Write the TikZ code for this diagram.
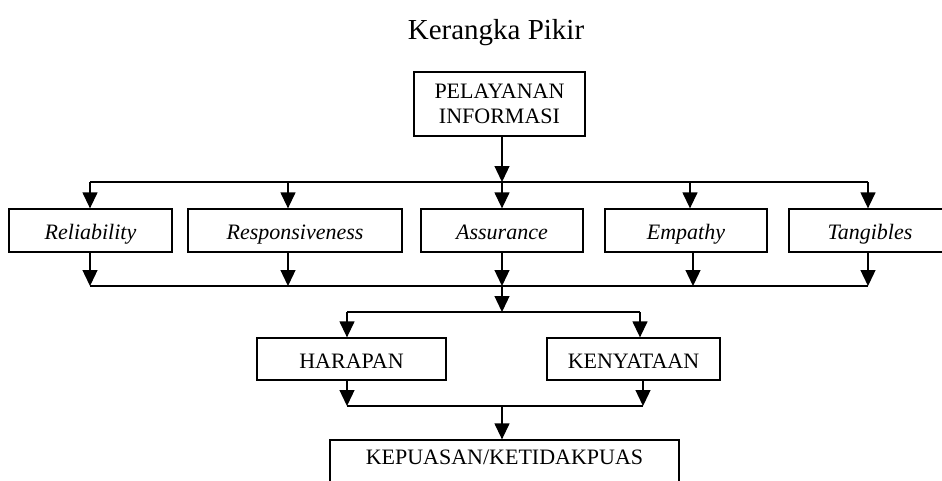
\documentclass[tikz,border=0pt]{standalone}
\usepackage{fontspec}
\setmainfont{Liberation Serif}
\usepackage{xcolor}
\usetikzlibrary{arrows.meta,calc}
\definecolor{figline}{RGB}{0,0,0}
\tikzset{
  ln/.style  ={draw=figline, line width=1.3pt},
  arr/.style ={draw=figline, line width=1.3pt, -{Triangle[length=16pt,width=15pt]}},
  bx/.style  ={draw=figline, line width=1.3pt, rectangle, inner sep=1pt,
               font=\fontsize{22}{25}\selectfont, align=center},
  bxl/.style ={bx, text height=21pt, text depth=3pt},
  bxi/.style ={bxl, font=\fontsize{22}{25}\selectfont\itshape},
  ttl/.style ={font=\fontsize{29}{32}\selectfont, inner sep=0pt},
}

\begin{document}
\begin{tikzpicture}[x=1pt,y=-1pt]
  \useasboundingbox (0,0) rectangle (942,480);
  \clip (0,0) rectangle (942,480);
  \node[ttl] (title) at (496,33) {Kerangka Pikir};
  \node[bx,minimum width=171pt,minimum height=64pt] (pel) at (499.5,104) {PELAYANAN\\INFORMASI};
  \node[bxi,minimum width=163pt,minimum height=43pt] (rel) at (90.5,230.5) {Reliability};
  \node[bxi,minimum width=214pt,minimum height=43pt] (res) at (295,230.5) {Responsiveness};
  \node[bxi,minimum width=162pt,minimum height=43pt] (ass) at (502,230.5) {Assurance};
  \node[bxi,minimum width=162pt,minimum height=43pt] (emp) at (686,230.5) {Empathy};
  \node[bxi,minimum width=162pt,minimum height=43pt] (tan) at (870,230.5) {Tangibles};
  \node[bxl,minimum width=189pt,minimum height=42pt] (har) at (351.5,359) {HARAPAN};
  \node[bxl,minimum width=173pt,minimum height=42pt] (ken) at (633.5,359) {KENYATAAN};
  \node[bx,minimum width=349pt,minimum height=50pt,text height=14pt,text depth=16pt] (kep) at (504.5,465) {KEPUASAN/KETIDAKPUAS};
  \coordinate (a1) at (90,182);
  \coordinate (a2) at (288,182);
  \coordinate (a3) at (502,182);
  \coordinate (a4) at (690,182);
  \coordinate (a5) at (868,182);
  \coordinate (b1) at (90,286);
  \coordinate (b2) at (288,286);
  \coordinate (b3) at (502,286);
  \coordinate (b4) at (693,286);
  \coordinate (b5) at (868,286);
  \coordinate (c1) at (347,312);
  \coordinate (c2) at (502,312);
  \coordinate (c3) at (640,312);
  \coordinate (d1) at (347,406);
  \coordinate (d2) at (502,406);
  \coordinate (d3) at (643,406);
  \draw[arr] (pel.south -| a3) -- (a3);
  \draw[ln] (a1) -- (a5);
  \foreach \i/\n in {1/rel,2/res,3/ass,4/emp,5/tan}{
    \draw[arr] (a\i) -- (a\i |- \n.north);
    \draw[arr] (b\i |- \n.south) -- (b\i);
  }
  \draw[ln] (b1) -- (b5);
  \draw[arr] (b3) -- (c2);
  \draw[ln] (c1) -- (c3);
  \draw[arr] (c1) -- (c1 |- har.north);
  \draw[arr] (c3) -- (c3 |- ken.north);
  \draw[arr] (d1 |- har.south) -- (d1);
  \draw[arr] (d3 |- ken.south) -- (d3);
  \draw[ln] (d1) -- (d3);
  \draw[arr] (d2) -- (d2 |- kep.north);
\end{tikzpicture}
\end{document}
